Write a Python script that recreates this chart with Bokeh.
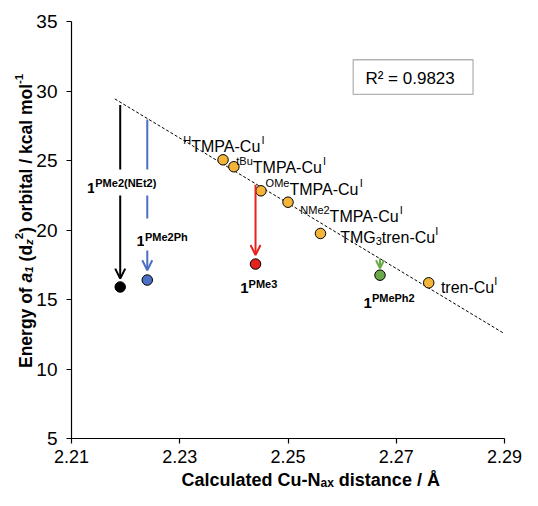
import numpy as np
from math import pi
from bokeh.plotting import figure
from bokeh.models import (Range1d, Label, Arrow, OpenHead, BoxAnnotation,
                          FixedTicker, PrintfTickFormatter)
from bokeh.embed import file_html
from bokeh.resources import INLINE

# ---------------- data ----------------
ref_x = [2.238, 2.240, 2.245, 2.250, 2.256, 2.276]
ref_y = [25.05, 24.55, 22.82, 22.0, 19.75, 16.2]
ref_runs = [
    [("H", "sup"), ("TMPA-Cu", "main"), ("I", "sup")],
    [("tBu", "sup"), ("TMPA-Cu", "main"), ("I", "sup")],
    [("OMe", "sup"), ("TMPA-Cu", "main"), ("I", "sup")],
    [("NMe2", "sup"), ("TMPA-Cu", "main"), ("I", "sup")],
    [("TMG", "main"), ("3", "sub"), ("tren-Cu", "main"), ("I", "sup")],
    [("tren-Cu", "main"), ("I", "sup")],
]

cmp_x = [2.219, 2.224, 2.244, 2.267]
cmp_y = [15.9, 16.4, 17.55, 16.75]
cmp_sup = ["PMe2(NEt2)", "PMe2Ph", "PMe3", "PMePh2"]
cmp_colors = ["#000000", "#4A6FC4", "#E5221C", "#6BAA4A"]

arrow_y_start = [29.0, 27.95, 23.25, 17.95]
arrow_y_end = [16.5, 17.1, 18.2, 17.25]

trend_x = [2.218, 2.29]
r2_text = "R\u00b2 = 0.9823"

x_ticks = [2.21, 2.23, 2.25, 2.27, 2.29]
y_ticks = [5, 10, 15, 20, 25, 30, 35]

# ---------------- helpers ----------------
FONT = "Liberation Sans"
REG = dict(zip(" ()-./=0123456789", [278, 333, 333, 333, 278, 278, 584] + [556] * 10))
REG.update(dict(zip("ABCDEFGHIJKLMNOPQRSTUVWXYZ",
                    [667, 667, 722, 722, 667, 611, 778, 722, 278, 500, 667, 556, 833,
                     722, 778, 667, 778, 722, 667, 611, 722, 667, 944, 667, 667, 611])))
REG.update(dict(zip("abcdefghijklmnopqrstuvwxyz",
                    [556, 556, 500, 556, 556, 278, 556, 556, 222, 222, 500, 222, 833,
                     556, 556, 556, 556, 333, 500, 278, 556, 500, 722, 500, 500, 500])))
BOLD = dict(zip(" ()-./=0123456789", [278, 333, 333, 333, 278, 278, 584] + [556] * 10))
BOLD.update(dict(zip("ABCDEFGHIJKLMNOPQRSTUVWXYZ",
                     [722, 722, 722, 722, 667, 611, 778, 722, 278, 556, 722, 611, 833,
                      722, 778, 667, 778, 722, 667, 611, 722, 667, 944, 667, 667, 611])))
BOLD.update(dict(zip("abcdefghijklmnopqrstuvwxyz",
                     [556, 611, 556, 611, 556, 333, 611, 611, 278, 278, 556, 278, 889,
                      611, 611, 611, 611, 389, 556, 333, 611, 556, 778, 556, 556, 500])))
BOLD["\u00c5"] = 722


def tw(s, size, style):
    tab = BOLD if "bold" in style else REG
    return sum(tab.get(c, 556) for c in s) * size / 1000.0


def place_runs(p, runs, x, y, dx, dy, units="data", angle=0.0, bg=None):
    """runs: (text, style, size, shift_up); dx,dy: px offset (dy down) of baseline start.
    Leading/trailing blanks are turned into advances (SVG collapses them)."""
    cur = 0.0
    for text, style, size, shift in runs:
        lead = len(text) - len(text.lstrip(" "))
        cur += tw(" " * lead, size, style)
        core = text.strip(" ")
        if angle == 0:
            xo, yo = dx + cur, -dy + shift
        else:
            xo, yo = dx - shift, dy + cur
        kw = {}
        if bg is not None:
            kw = dict(background_fill_color="white", padding=bg)
        p.add_layout(Label(x=x, y=y, x_units=units, y_units=units, x_offset=xo, y_offset=yo,
                           text=core, text_font=FONT, text_font_size=f"{size}px",
                           text_font_style=style, text_color="black", text_align="left",
                           text_baseline="alphabetic", angle=angle, **kw))
        cur += tw(text.lstrip(" "), size, style)


# ---------------- layout: frame covers the whole canvas, axes at fixed locations ----------
W_PX, H_PX = 522, 490
X_LO, X_HI = x_ticks[0], x_ticks[-1]
Y_LO, Y_HI = y_ticks[0], y_ticks[-1]
AX_L, AX_R, AX_T, AX_B = 71, 504, 21, 438          # pixel position of the axes box
sx = (AX_R - AX_L) / (X_HI - X_LO)
sy = (AX_B - AX_T) / (Y_HI - Y_LO)
x_range = Range1d(X_LO - AX_L / sx, X_LO + (W_PX - AX_L) / sx)
y_range = Range1d(Y_HI - (H_PX - AX_T) / sy, Y_HI + AX_T / sy)
fx, fy = (AX_R - AX_L) / 444.5, (AX_B - AX_T) / 425.4   # scale vs. reference layout

p = figure(width=W_PX, height=H_PX, x_range=x_range, y_range=y_range,
           output_backend="svg", toolbar_location=None,
           min_border=0, min_border_left=0, min_border_right=0,
           min_border_top=0, min_border_bottom=0)
p.outline_line_color = None
p.xgrid.visible = False
p.ygrid.visible = False
p.background_fill_color = "white"
p.border_fill_color = "white"

for ax in (p.xaxis[0], p.yaxis[0]):
    ax.axis_line_color = "black"
    ax.axis_line_width = 1.2
    ax.major_tick_line_color = "black"
    ax.major_tick_line_width = 1.2
    ax.major_tick_out = 5
    ax.major_tick_in = 0
    ax.minor_tick_out = 0
    ax.minor_tick_in = 0
    ax.major_label_text_font = FONT
    ax.major_label_text_color = "black"
p.xaxis.major_label_text_font_size = "18px"
p.yaxis.major_label_text_font_size = "19px"
p.xaxis.ticker = FixedTicker(ticks=x_ticks)
p.yaxis.ticker = FixedTicker(ticks=y_ticks)
p.xaxis.formatter = PrintfTickFormatter(format="%.2f")
p.yaxis.formatter = PrintfTickFormatter(format="%d")
p.xaxis.major_label_standoff = 6
p.yaxis.major_label_standoff = 9
p.xaxis.fixed_location = Y_LO
p.yaxis.fixed_location = X_LO
p.xaxis.bounds = (X_LO, X_HI)
p.yaxis.bounds = (Y_LO, Y_HI)

# trend line (least-squares fit through the reference complexes)
slope, icpt = np.polyfit(ref_x, ref_y, 1)
trend_y = [slope * xv + icpt for xv in trend_x]
p.line(trend_x, trend_y, line_color="black", line_width=1, line_dash="3 2")

# arrows
for i in range(len(cmp_x)):
    hs = 8 if i == 3 else 10
    p.add_layout(Arrow(x_start=cmp_x[i], y_start=arrow_y_start[i], x_end=cmp_x[i],
                       y_end=arrow_y_end[i], line_color=cmp_colors[i], line_width=2,
                       end=OpenHead(size=hs, line_width=2, line_color=cmp_colors[i])))

# points
p.scatter(ref_x, ref_y, size=10.5, fill_color="#F2B53A", line_color="black", line_width=1)
p.scatter(cmp_x, cmp_y, size=10.5, fill_color=cmp_colors, line_color="black", line_width=1)

# labels for reference complexes
ref_off = [(-40.8, -13.6), (2.5, 0.8), (4.8, -1.0), (12.6, 14.8), (20.2, 4.3), (12.5, 4.9)]
kind = {"main": (16, 0.0), "sup": (11, 6.5), "sub": (11, -3.5)}
for i, runs in enumerate(ref_runs):
    rr = [(t, "normal", kind[k][0], kind[k][1]) for t, k in runs]
    place_runs(p, rr, ref_x[i], ref_y[i], ref_off[i][0] * fx, ref_off[i][1] * fy)

# labels for compounds 1
cmp_off = [(-35.2, -102.1), (-12.0, -41.8), (-15.7, 24.7), (-16.9, 28.3)]
cmp_bg = [{"left": 1, "right": 1, "top": 8, "bottom": 6},
          {"left": 1, "right": 1, "top": 12, "bottom": 8}, None, None]
for i in range(len(cmp_x)):
    rr = [("1", "bold", 15, 0.0), (cmp_sup[i], "bold", 11, 4.5)]
    place_runs(p, rr, cmp_x[i], cmp_y[i], cmp_off[i][0] * fx, cmp_off[i][1] * fy, bg=cmp_bg[i])

# R^2 box (fractions of the axes box)
bl, br = X_LO + 0.6506 * (X_HI - X_LO), X_LO + 0.9273 * (X_HI - X_LO)
bt, bb = Y_HI - 0.0917 * (Y_HI - Y_LO), Y_HI - 0.1749 * (Y_HI - Y_LO)
p.add_layout(BoxAnnotation(left=bl, right=br, top=bt, bottom=bb, fill_color=None,
                           fill_alpha=0, line_color="black", line_width=1.3))
p.add_layout(Label(x=(bl + br) / 2, y=(bt + bb) / 2, x_offset=-3, y_offset=-1, text=r2_text,
                   text_font=FONT, text_font_size="17px", text_align="center",
                   text_baseline="middle", text_color="black"))

# axis titles (screen px from the canvas bottom-left)
ytitle = [("Energy of ", "bold", 17.5, 0), ("a", "bold italic", 17.5, 0),
          ("1", "bold italic", 11.5, -3.5), (" (d", "bold", 17.5, 0),
          ("z", "bold italic", 11.5, -3.5), ("2", "bold", 11.5, 6.5),
          (") orbital / kcal mol", "bold", 17.5, 0), ("-1", "bold", 11.5, 6.5)]
W = sum(tw(t, s, st) for t, st, s, _ in ytitle)
yc = H_PX - (AX_T + (226.7 - 23.3) * fy)
place_runs(p, ytitle, 0, 0, AX_L - 46.0, yc - W / 2, units="screen", angle=pi / 2)

xtitle = [("Calculated Cu-N", "bold", 18, 0), ("ax", "bold", 12, -3.5),
          (" distance / \u00c5", "bold", 18, 0)]
place_runs(p, xtitle, 0, 0, AX_L + 110.0, -(H_PX - 479.0), units="screen")

open("out.html", "w").write(file_html(p, INLINE))
